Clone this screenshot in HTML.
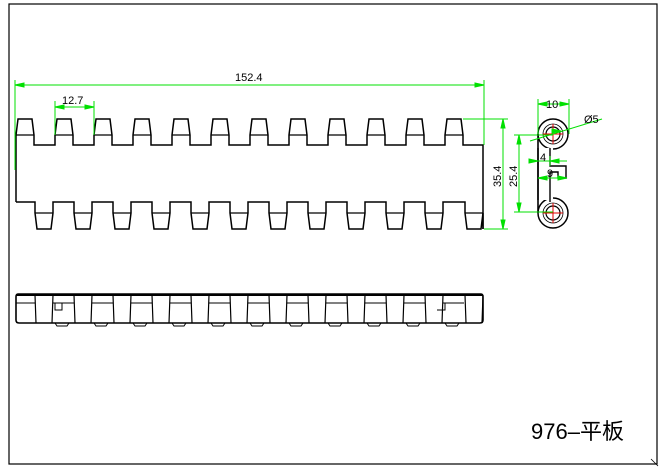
<!DOCTYPE html>
<html><head><meta charset="utf-8"><style>
html,body{margin:0;padding:0;background:#fff;}
svg{display:block;}
text{font-family:"Liberation Sans",sans-serif;}
</style></head><body>
<svg id="s" width="662" height="471" viewBox="0 0 662 471" xmlns="http://www.w3.org/2000/svg">
<rect x="9" y="4" width="648" height="460" fill="none" stroke="#000" stroke-width="1.2"/>
<line x1="651" y1="459" x2="658" y2="466" stroke="#000" stroke-width="0.8"/>
<g id="main" fill="none" stroke="#000" stroke-width="1.5"></g>
<g id="dim" stroke="#00e000" stroke-width="1" fill="none"></g>
<g font-size="11" fill="#000">
<text x="235" y="81">152.4</text>
<text x="62" y="104">12.7</text>
<text x="0" y="0" transform="translate(501,187) rotate(-90)">35.4</text>
<text x="0" y="0" transform="translate(517,187) rotate(-90)">25.4</text>
<text x="546" y="108">10</text>
<text x="584" y="123">Ø5</text>
<text x="540" y="161">4</text>
<text x="547" y="177">9</text>
</g>
<text x="531" y="439" font-size="22" style='font-family:"Liberation Sans","Noto Sans CJK SC",sans-serif'>976–平板</text>
<script>
(function(){
var m=document.getElementById('main'),d=document.getElementById('dim');
var NS='http://www.w3.org/2000/svg';
function el(p,t,a){var e=document.createElementNS(NS,t);for(var k in a)e.setAttribute(k,a[k]);p.appendChild(e);return e;}
var P=39.0;
el(m,'path',{d:'M16,135 L16,202'});
var tp='M16,135 ';
for(var i=0;i<12;i++){var x=16+P*i;
 tp+='L'+(x+2)+',119 L'+(x+16)+',119 L'+(x+18)+',135 L'+(x+18)+',145 ';
 if(i<11) tp+='L'+(x+P)+',145 L'+(x+P)+',135 ';}
tp+='L483,145 L483,229';
el(m,'path',{d:tp});
for(var i=0;i<12;i++){var x=16+P*i;el(m,'line',{x1:x,y1:135,x2:x+18,y2:135,'stroke-width':1.2});}
var bot='M16,202 ';
for(var j=0;j<12;j++){var x=(j==11)?465:35+P*j;
 bot+='L'+x+',202 L'+x+',213 L'+(x+2)+',229 L'+(x+16)+',229 L'+(x+18)+',213 ';
 if(j<11) bot+='L'+(x+18)+',202 ';}
bot+='L483,229';
el(m,'path',{d:bot});
for(var j=0;j<12;j++){var x=(j==11)?465:35+P*j;el(m,'line',{x1:x,y1:213,x2:x+18,y2:213,'stroke-width':1.2});}
// bottom view
el(m,'path',{d:'M18,294 L481,294 Q483,294 483,297 L483,320 Q483,323 480,323 L19,323 Q16,323 16,320 L16,297 Q16,294 18,294','stroke-width':1.6});
el(m,'line',{x1:16,y1:295,x2:483,y2:295,'stroke-width':2});
for(var j=0;j<12;j++){var x=(j==11)?465:35+P*j;
 el(m,'path',{d:'M'+x+',295 L'+(x+1)+',323 M'+(x+18)+',295 L'+(x+17)+',323','stroke-width':1.2});
 var nx=(j<11)?35+P*(j+1):483;
 if(j<11) el(m,'line',{x1:x+18,y1:303,x2:nx,y2:303,'stroke-width':1});
 if(j<11) el(m,'path',{d:'M'+(x+20)+',323 L'+(x+22)+',326 L'+(x+32)+',326 L'+(x+34)+',323','stroke-width':1});
}
el(m,'line',{x1:16,y1:303,x2:35,y2:303,'stroke-width':1});
el(m,'path',{d:'M55,303 L55,310 L62,310 L62,303 M445,303 L445,310 L437,310','stroke-width':1});
// side view
el(m,'path',{d:'M538,134 L538,213','stroke-width':1.6});
el(m,'circle',{cx:553,cy:134,r:15});
el(m,'circle',{cx:553,cy:213,r:15});
el(m,'circle',{cx:553,cy:134,r:10,'stroke-width':0.8});
el(m,'circle',{cx:553,cy:213,r:10,'stroke-width':0.8});
el(m,'circle',{cx:553,cy:134,r:7,'stroke-width':1.2});
el(m,'circle',{cx:553,cy:213,r:7,'stroke-width':1.2});
el(m,'rect',{x:539,y:148,width:14,height:52,fill:'#fff',stroke:'none'});
el(m,'path',{d:'M538,148 L538,200 M550,148 L550,160 L550,166 L566,166 L566,178 L558,178 L558,172 L550,172 L550,200 L550,202','stroke-width':1.4});
[[553,134],[553,213]].forEach(function(c){
 el(m,'path',{d:'M'+(c[0]-10)+','+c[1]+' L'+(c[0]+10)+','+c[1]+' M'+c[0]+','+(c[1]-10)+' L'+c[0]+','+(c[1]+10),stroke:'#e00000','stroke-width':1});});
// dims
function L(a,b,c,e){el(d,'line',{x1:a,y1:b,x2:c,y2:e});}
function arr(x,y,dir){var s=dir=='r'?'M'+x+','+y+' l-9,-2 l0,4z':dir=='l'?'M'+x+','+y+' l9,-2 l0,4z':dir=='u'?'M'+x+','+y+' l-2,9 l4,0z':'M'+x+','+y+' l-2,-9 l4,0z';el(d,'path',{d:s,fill:'#00e000'});}
L(15,85,484,85);arr(15,85,'l');arr(484,85,'r');L(15,80,15,170);L(484,80,484,145);
L(55,107,94,107);arr(55,107,'l');arr(94,107,'r');L(55,101,55,135);L(94,101,94,135);
L(503,119,503,229);arr(503,119,'u');arr(503,229,'d');L(463,119,508,119);L(484,229,508,229);
L(519,135,519,212);arr(519,135,'u');arr(519,212,'d');L(514,135,553,135);L(514,212,553,212);
L(538,104,569,104);arr(538,104,'l');arr(569,104,'r');L(538,99,538,134);L(569,99,569,134);
L(530,141,602,119);arr(561,131,'r');
L(530,161,567,161);arr(538,161,'r');arr(550,161,'l');L(550,156,550,166);
L(538,178,567,178);arr(538,178,'l');arr(567,178,'r');
})();
</script>
</svg>
</body></html>
